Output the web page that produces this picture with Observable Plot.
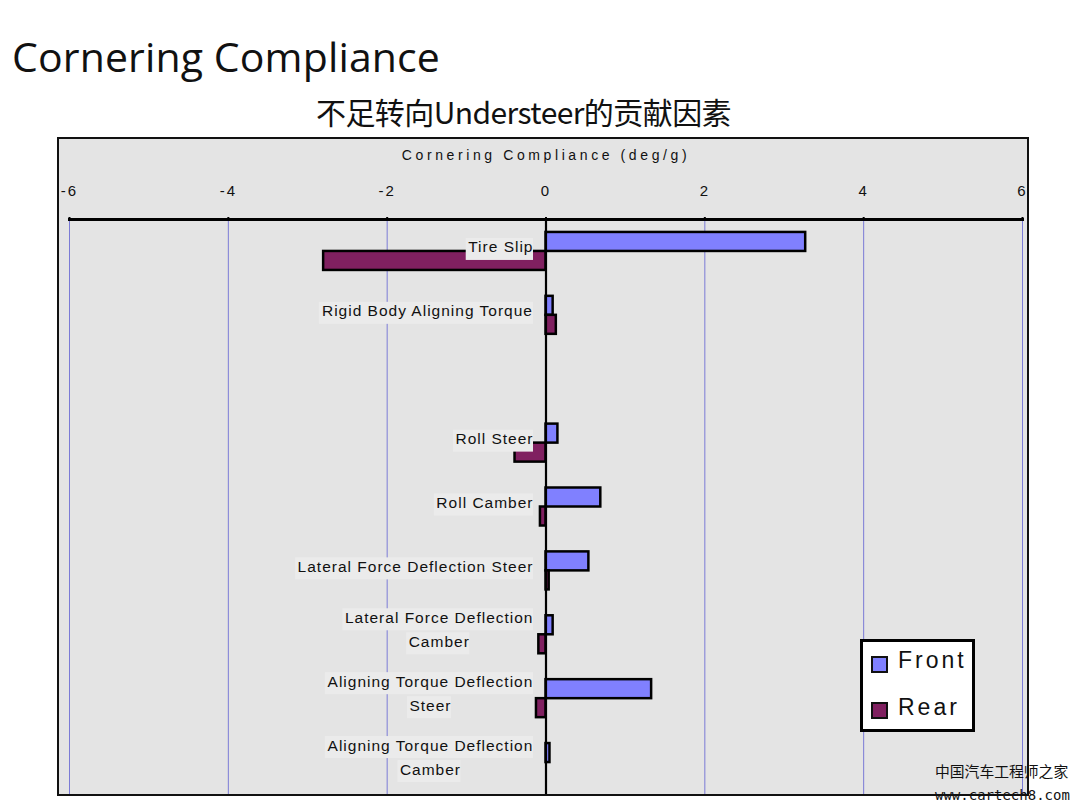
<!DOCTYPE html>
<html>
<head>
<meta charset="utf-8">
<script src="https://cdn.jsdelivr.net/npm/d3@7"></script>
<script src="https://cdn.jsdelivr.net/npm/@observablehq/plot@0.6"></script>
<style>
  html, body { margin: 0; padding: 0; background: #fff; }
  #page { position: relative; width: 1080px; height: 810px; overflow: hidden; background: #fff; }
  #title { position: absolute; left: 12px; top: 36px; font-family: "Open Sans", Lato, sans-serif; font-size: 41px; line-height: 41px; color: #111; white-space: nowrap; }
  #subtitle { position: absolute; left: 316px; top: 96px; font-family: "Noto Sans CJK SC", sans-serif; font-size: 30px; line-height: 30px; color: #111; white-space: nowrap; }
  #panel { position: absolute; left: 57px; top: 137px; width: 968px; height: 655px; border: 2px solid #111; background: #e4e4e4; }
  #panel svg { display: block; overflow: visible; font-family: "Liberation Sans", Arial, sans-serif; font-size: 15.5px; letter-spacing: 1px; color: #111; }
  #panel svg g[aria-label="x-axis tick label"] text { font-size: 15px; letter-spacing: 2px; }
  #panel svg g[aria-label="x-axis label"] text { font-size: 14px; letter-spacing: 3.6px; }
  #legend { position: absolute; left: 860px; top: 639px; width: 109px; height: 87px; border: 3px solid #000; background: #fff; }
  .sw { position: absolute; left: 8px; width: 17px; height: 17px; box-sizing: border-box; border: 2px solid #111; }
  .lt { position: absolute; left: 35px; font-family: "Liberation Sans", Arial, sans-serif; font-size: 23px; line-height: 23px; letter-spacing: 3px; color: #111; white-space: nowrap; }
  #wm1 { position: absolute; left: 935px; top: 762px; font-family: "Noto Sans CJK SC", sans-serif; font-size: 14.8px; line-height: 18px; color: #111; white-space: nowrap; }
  #wm2 { position: absolute; left: 935px; top: 786px; font-family: "DejaVu Sans Mono", monospace; font-size: 14px; line-height: 18px; color: #111; white-space: nowrap; }
</style>
</head>
<body>
<div id="page">
  <div id="title"></div>
  <div id="subtitle"></div>
  <div id="panel"></div>
  <div id="legend"></div>
  <div id="wm1">中国汽车工程师之家</div>
  <div id="wm2">www.cartech8.com</div>
</div>
<script>
// ---- data ----
const titleText = "Cornering Compliance";
const subtitleText = "不足转向Understeer的贡献因素";
const axisLabel = "Cornering Compliance (deg/g)";
const categories = [
  "Tire Slip",
  "Rigid Body Aligning Torque",
  "",
  "Roll Steer",
  "Roll Camber",
  "Lateral Force Deflection Steer",
  "Lateral Force Deflection\nCamber",
  "Aligning Torque Deflection\nSteer",
  "Aligning Torque Deflection\nCamber"
];
const frontValues = [3.27, 0.09, null, 0.15, 0.69, 0.54, 0.09, 1.33, 0.05];
const rearValues  = [-2.8, 0.13, null, -0.39, -0.07, 0.04, -0.09, -0.12, 0.0];
const seriesNames = ["Front", "Rear"];
const seriesColors = ["#8080ff", "#802060"];
const xTicks = [-6, -4, -2, 0, 2, 4, 6];
const gridTicks = [-6, -4, -2, 2, 4, 6];

// ---- titles ----
const titleEl = document.getElementById("title");
titleEl.textContent = titleText;
const subEl = document.getElementById("subtitle");
subEl.textContent = subtitleText;
function fitWidth(el, target) {
  const w = el.getBoundingClientRect().width;
  const n = [...el.textContent].length;
  el.style.letterSpacing = ((target - w) / n) + "px";
}
fitWidth(titleEl, 428);
fitWidth(subEl, 415);

// ---- chart ----
const W = 968, H = 655, mTop = 80, mBottom = 0;
const B = (H - mTop - mBottom) / categories.length;
const barH = 19;

const frontRows = categories.map((c, i) => ({category: c, value: frontValues[i]})).filter(d => d.value != null);
const rearRows = categories.map((c, i) => ({category: c, value: rearValues[i]})).filter(d => d.value != null);

const ctx = document.createElement("canvas").getContext("2d");
ctx.font = "15.5px 'Liberation Sans'";
const ls = 1;
const measure = s => ctx.measureText(s).width + ls * [...s].length;

const gap = 13;
const boxMarks = [];
const labelMarks = [];
categories.forEach(c => {
  if (!c) return;
  const lines = c.split("\n");
  const blockW = Math.max(...lines.map(measure));
  const dys = lines.length === 1 ? [-4] : [-17, 7];
  lines.forEach((line, j) => {
    const w = measure(line) - ls;
    const dy = dys[j];
    boxMarks.push(Plot.barX([c], {
      x1: () => 0, x2: () => 0, y: d => d,
      fill: "#ebebeb",
      insetLeft: -(gap + blockW / 2 + w / 2 + 2),
      insetRight: gap + blockW / 2 - w / 2 - 1,
      insetTop: B / 2 + dy - 9,
      insetBottom: B / 2 - dy - 13
    }));
    labelMarks.push(Plot.text([c], {
      x: () => 0, y: d => d, text: () => line,
      textAnchor: "middle",
      dx: -(gap + blockW / 2) + ls / 2,
      dy: dy,
      fill: "#111"
    }));
  });
});

const chart = Plot.plot({
  width: W, height: H,
  marginLeft: 10, marginRight: 5, marginTop: mTop, marginBottom: mBottom,
  x: {domain: [-6, 6]},
  y: {domain: categories, padding: 0, round: false, axis: null},
  marks: [
    Plot.gridX(gridTicks, {stroke: "#7b7bd6", strokeOpacity: 1, strokeWidth: 1}),
    Plot.barX(frontRows, {x: "value", y: "category", fill: seriesColors[0], stroke: "#000", strokeWidth: 2.5,
      insetTop: B / 2 - barH, insetBottom: B / 2}),
    Plot.barX(rearRows, {x: "value", y: "category", fill: seriesColors[1], stroke: "#000", strokeWidth: 2.5,
      insetTop: B / 2, insetBottom: B / 2 - barH}),
    Plot.ruleX([0], {stroke: "#000", strokeWidth: 2.2}),
    ...boxMarks,
    ...labelMarks,
    Plot.frame({anchor: "top", stroke: "#000", strokeWidth: 3}),
    Plot.axisX({anchor: "top", ticks: xTicks, tickFormat: d => String(d), tickSize: 3, tickPadding: 21,
      stroke: "#000", strokeWidth: 2, label: axisLabel, labelAnchor: "center", labelArrow: "none", labelOffset: 69, fill: "#111"})
  ]
});
document.getElementById("panel").appendChild(chart);

// ---- legend ----
const legend = document.getElementById("legend");
const legendTops = [[14, 7], [60, 54]];
seriesNames.forEach((name, i) => {
  const sw = document.createElement("div");
  sw.className = "sw";
  sw.style.top = legendTops[i][0] + "px";
  sw.style.background = seriesColors[i];
  legend.appendChild(sw);
  const t = document.createElement("div");
  t.className = "lt";
  t.style.top = legendTops[i][1] + "px";
  t.textContent = name;
  legend.appendChild(t);
});
</script>
</body>
</html>
